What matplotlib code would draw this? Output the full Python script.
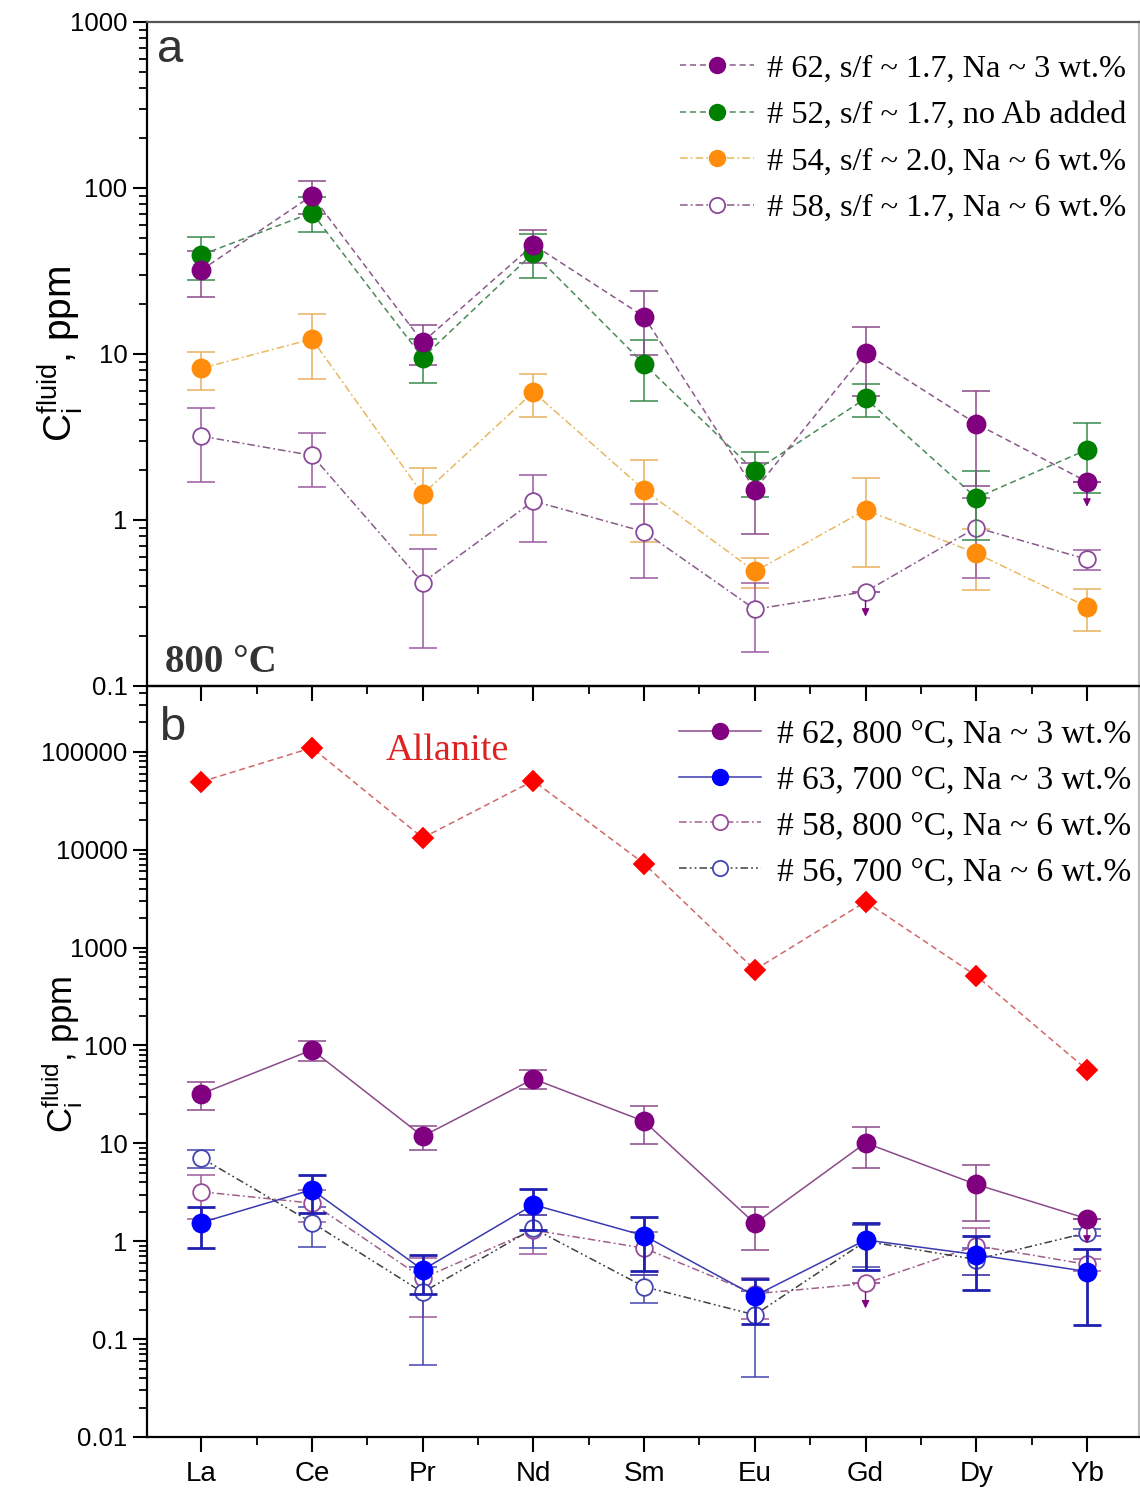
import numpy as np
import matplotlib
matplotlib.use('Agg')
import matplotlib.pyplot as plt
from matplotlib.ticker import FixedLocator, NullFormatter, LogLocator
from matplotlib.transforms import ScaledTranslation
from matplotlib.lines import Line2D

plt.rcParams['font.family'] = ['Liberation Sans', 'DejaVu Sans']
plt.rcParams['mathtext.fontset'] = 'custom'
plt.rcParams['mathtext.rm'] = 'Liberation Sans'
plt.rcParams['mathtext.it'] = 'Liberation Sans:italic'

elements = ['La', 'Ce', 'Pr', 'Nd', 'Sm', 'Eu', 'Gd', 'Dy', 'Yb']

# ---- panel a: 800 °C ----
r62 = [32, 90, 11.8, 45.5, 16.8, 1.52, 10.1, 3.8, 1.7]
r62_err = [10, 20, 3.2, 10, 7, 0.7, 4.5, 2.2, 0]
r52 = [39.5, 71, 9.5, 40.6, 8.7, 1.97, 5.4, 1.36, 2.65]
r52_err = [11.5, 17, 2.8, 12, 3.5, 0.6, 1.2, 0.6, 1.2]
r54 = [8.2, 12.3, 1.43, 5.9, 1.52, 0.49, 1.15, 0.63, 0.30]
r54_err = [2.1, 5.2, 0.62, 1.7, 0.78, 0.1, 0.63, 0.25, 0.085]
r58 = [3.2, 2.45, 0.42, 1.3, 0.85, 0.29, 0.37, 0.9, 0.58]
r58_err = [1.5, 0.87, 0.25, 0.56, 0.4, 0.13, 0, 0.45, 0.08]

# ---- panel b ----
r63 = [1.55, 3.36, 0.51, 2.36, 1.14, 0.277, 1.03, 0.73, 0.49]
r63_err = [0.7, 1.41, 0.22, 1.07, 0.64, 0.135, 0.52, 0.41, 0.35]
r56 = [7.1, 1.55, 0.30, 1.35, 0.343, 0.177, 1.0, 0.65, 1.22]
r56_err = [1.5, 0.67, 0.245, 0.5, 0.11, 0.136, 0.45, 0.2, 0.1]
allanite = [49400, 110000, 13200, 50600, 7200, 593, 2940, 515, 56.5]

# upper-limit flags (index of element)
uplim_62 = [8]
uplim_58 = [6]

labels_a = ['# 62, s/f ~ 1.7, Na ~ 3 wt.%', '# 52, s/f ~ 1.7, no Ab added',
            '# 54, s/f ~ 2.0, Na ~ 6 wt.%', '# 58, s/f ~ 1.7, Na ~ 6 wt.%']
labels_b = ['# 62, 800 °C, Na ~ 3 wt.%', '# 63, 700 °C, Na ~ 3 wt.%',
            '# 58, 800 °C, Na ~ 6 wt.%', '# 56, 700 °C, Na ~ 6 wt.%']

yticks_a = [0.1, 1, 10, 100, 1000]
yticks_b = [0.01, 0.1, 1, 10, 100, 1000, 10000, 100000]

W, H = 1140, 1488
fig = plt.figure(figsize=(W / 100, H / 100), dpi=100)
L = 147 / W
R = 1139 / W
axA = fig.add_axes([L, 1 - 686 / H, R - L, (686 - 22) / H])
axB = fig.add_axes([L, 1 - 1437 / H, R - L, (1437 - 686) / H])
axB.set_facecolor('none')
axA.set_zorder(2)
axA.set_facecolor('none')

x = np.arange(1, len(elements) + 1)

DASH = (0, (4, 2.5))
DASHDOT = (0, (5, 2, 1.2, 2))
DASHDOTDOT = (0, (5, 2, 1.2, 2, 1.2, 2))

PURPLE = '#800080'
GREEN = '#008000'
ORANGE = '#ff8c0a'
BLUE = '#0000ff'
RED = '#ff0000'


def series(ax, y, err, fc, ec, lc, ls, errc, elw=1.1, lw=1.1, ms=13, mew=1.3,
           marker='o', z=3):
    if err is not None:
        ax.errorbar(x, y, yerr=err, fmt='none', ecolor=errc, elinewidth=elw,
                    capsize=10, capthick=elw, zorder=z)
    ax.plot(x, y, ls=ls, color=lc, lw=lw, zorder=z + 0.2)
    ax.plot(x, y, ls='none', marker=marker, ms=ms, mfc=fc, mec=ec, mew=mew,
            zorder=z + 0.5)


def uplim(ax, xi, yi, color):
    t_tip = ax.transData + ScaledTranslation(0, -0.25, fig.dpi_scale_trans)
    t_start = ax.transData + ScaledTranslation(0, -0.09, fig.dpi_scale_trans)
    ax.annotate('', xy=(xi, yi), xycoords=t_tip, xytext=(xi, yi),
                textcoords=t_start,
                arrowprops=dict(arrowstyle='-|>,head_length=0.45,head_width=0.22',
                                color=color, lw=1.0, shrinkA=0, shrinkB=0),
                zorder=6)


# ---------------- panel a ----------------
series(axA, r54, r54_err, ORANGE, ORANGE, '#e8b860', DASHDOT, '#e8b060', z=3)
series(axA, r58, r58_err, 'white', '#8a4a9a', '#8a5a8a', DASHDOT, '#9a5aa0',
       ms=12, z=3)
series(axA, r52, r52_err, GREEN, GREEN, '#4a8a5a', DASH, '#3a8a4a', z=4)
series(axA, r62, r62_err, PURPLE, PURPLE, '#8a5a8a', DASH, '#8a4a8a', z=4)
for i in uplim_62:
    uplim(axA, x[i], r62[i], PURPLE)
for i in uplim_58:
    uplim(axA, x[i], r58[i], PURPLE)

# ---------------- panel b ----------------
series(axB, allanite, None, RED, RED, '#d06868', DASH, RED, marker='D', ms=10.5,
       z=3)
series(axB, r62, r62_err, PURPLE, PURPLE, '#8a4a8a', '-', '#8a4a8a', z=4)
series(axB, r58, r58_err, 'white', '#9a4a9a', '#a0608a', DASHDOT, '#a05a9a',
       ms=12, z=3)
series(axB, r56, r56_err, 'white', '#4545b0', '#404040', DASHDOTDOT, '#4545b0',
       ms=12, z=3)
series(axB, r63, r63_err, BLUE, BLUE, '#3a3ab0', '-', '#2020b0', elw=2.0,
       z=4)
for i in uplim_62:
    uplim(axB, x[i], r62[i], PURPLE)
for i in uplim_58:
    uplim(axB, x[i], r58[i], PURPLE)

# ---------------- axes styling ----------------
for ax in (axA, axB):
    ax.set_yscale('log')
    ax.set_xlim(0.51, 9.47)
    ax.xaxis.set_major_locator(FixedLocator(x))
    ax.xaxis.set_minor_locator(FixedLocator(x[:-1] + 0.5))
    ax.yaxis.set_minor_locator(LogLocator(base=10, subs=np.arange(2, 10)))
    ax.yaxis.set_minor_formatter(NullFormatter())
    ax.tick_params(axis='both', which='major', direction='out', length=10,
                   width=1.5, labelsize=18.5, pad=4, right=False, top=False)
    ax.tick_params(axis='both', which='minor', direction='out', length=5.5,
                   width=1.3, right=False, top=False)
    ax.tick_params(axis='x', which='major', length=10.5)
    ax.tick_params(axis='x', which='minor', length=6)
    for s in ax.spines.values():
        s.set_linewidth(1.6)

axA.spines['top'].set_color('#555555')
axA.spines['right'].set_color('#bbbbbb')
axB.spines['right'].set_color('#bbbbbb')

axA.set_ylim(0.1, 1000)
axA.yaxis.set_major_locator(FixedLocator(yticks_a))
axA.set_yticklabels(['0.1', '1', '10', '100', '1000'])
axA.set_xticklabels([])

axB.set_ylim(0.01, 4.7e5)
axB.yaxis.set_major_locator(FixedLocator(yticks_b))
axB.set_yticklabels(['0.01', '0.1', '1', '10', '100', '1000', '10000', '100000'])
axB.set_xticklabels(elements, fontsize=20)
axB.tick_params(axis='x', which='major', pad=7)

ylab = r'$\mathregular{C_i^{fluid}}$, ppm'
axA.set_ylabel(ylab, fontsize=28)
axA.yaxis.set_label_coords(-0.062, 0.5)
axB.set_ylabel(ylab, fontsize=25)
axB.yaxis.set_label_coords(-0.064, 0.51)

# ---------------- legends ----------------
serifA = {'family': 'Liberation Serif', 'size': 23.3}
serifB = {'family': 'Liberation Serif', 'size': 24.0}
hA = [Line2D([], [], ls=DASH, color='#8a5a8a', lw=1.1, marker='o', ms=11.5,
             mfc=PURPLE, mec=PURPLE),
      Line2D([], [], ls=DASH, color='#4a8a5a', lw=1.1, marker='o', ms=11.5,
             mfc=GREEN, mec=GREEN),
      Line2D([], [], ls=DASHDOT, color='#e8b860', lw=1.1, marker='o', ms=11.5,
             mfc=ORANGE, mec=ORANGE),
      Line2D([], [], ls=DASHDOT, color='#8a5a8a', lw=1.1, marker='o', ms=11,
             mfc='white', mec='#8a4a9a', mew=1.3)]
legA = axA.legend(hA, labels_a, loc='upper left',
                  bbox_to_anchor=(680 / W, 1 - 54 / H),
                  bbox_transform=fig.transFigure, frameon=False, prop=serifA,
                  handlelength=2.3, handletextpad=0.4, labelspacing=0.52,
                  borderpad=0, borderaxespad=0)

hB = [Line2D([], [], ls='-', color='#8a4a8a', lw=1.1, marker='o', ms=11.5,
             mfc=PURPLE, mec=PURPLE),
      Line2D([], [], ls='-', color='#3a3ab0', lw=1.1, marker='o', ms=11.5,
             mfc=BLUE, mec=BLUE),
      Line2D([], [], ls=DASHDOT, color='#a0608a', lw=1.1, marker='o', ms=11,
             mfc='white', mec='#9a4a9a', mew=1.3),
      Line2D([], [], ls=DASHDOTDOT, color='#404040', lw=1.1, marker='o', ms=11,
             mfc='white', mec='#4545b0', mew=1.3)]
legB = axB.legend(hB, labels_b, loc='upper left',
                  bbox_to_anchor=(679 / W, 1 - 719 / H),
                  bbox_transform=fig.transFigure, frameon=False, prop=serifB,
                  handlelength=2.45, handletextpad=0.5, labelspacing=0.46,
                  borderpad=0, borderaxespad=0)

# ---------------- annotations ----------------
fig.text(157 / W, 1 - 62 / H, 'a', fontsize=34, color='#333333',
         va='baseline', ha='left')
fig.text(159 / W, 1 - 740 / H, 'b', fontsize=34, color='#333333',
         va='baseline', ha='left')
fig.text(165 / W, 1 - 672 / H, '800 °C', fontsize=28, fontweight='bold',
         family='Liberation Serif', color='#333333', va='baseline', ha='left')
fig.text(386 / W, 1 - 760 / H, 'Allanite', fontsize=27.5,
         family='Liberation Serif', color='#dd2222', va='baseline', ha='left')

fig.savefig('out.png', dpi=100)
